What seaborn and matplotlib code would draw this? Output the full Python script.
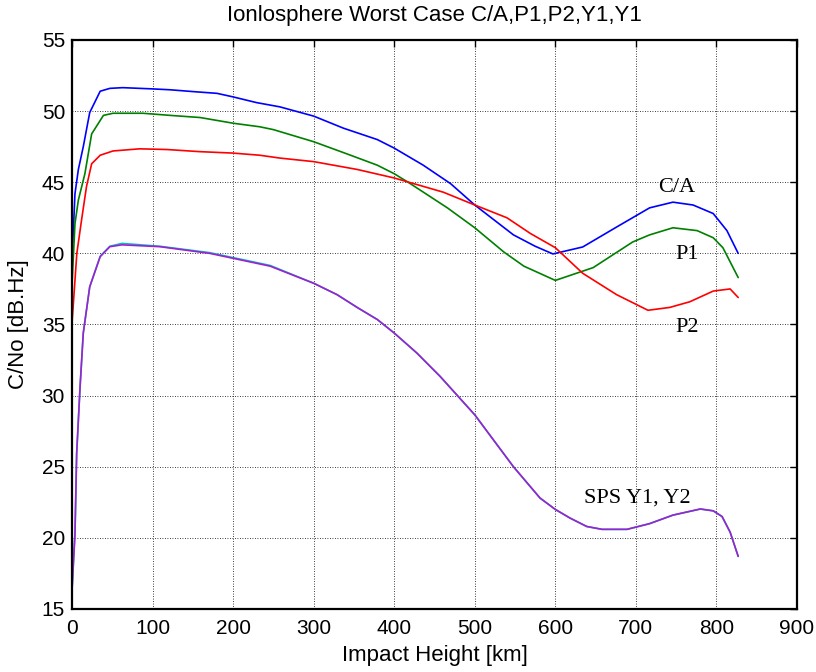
import matplotlib
matplotlib.use("Agg")
import matplotlib.pyplot as plt
import seaborn as sns
import pandas as pd

# ---- data ----
ca_x = [0, 3.7, 7.9, 14, 22, 35, 47, 63, 101, 122, 151, 180, 200, 229, 258, 300, 337, 379, 400,
        436, 470, 500, 548, 575, 597, 634, 676, 717, 746, 771, 796, 813, 827]
ca_y = [39.5, 44.2, 45.9, 47.5, 49.9, 51.4, 51.6, 51.65, 51.56, 51.5, 51.37, 51.25, 51.0, 50.6, 50.3,
        49.65, 48.8, 48.0, 47.4, 46.2, 44.9, 43.4, 41.3, 40.5, 39.96, 40.45, 41.85, 43.2, 43.6, 43.4,
        42.8, 41.6, 40.0]

p1_x = [0, 3.7, 7.9, 16, 24.4, 39, 51, 88, 122, 159, 200, 233, 250, 300, 341, 379, 400, 420, 466,
        500, 536, 561, 600, 647, 696, 717, 746, 776, 796, 808, 827]
p1_y = [37.8, 42.1, 43.75, 45.6, 48.4, 49.7, 49.85, 49.85, 49.7, 49.55, 49.15, 48.9, 48.7, 47.85,
        47.0, 46.2, 45.6, 44.9, 43.2, 41.8, 40.1, 39.1, 38.1, 39.0, 40.8, 41.3, 41.8, 41.6, 41.1,
        40.4, 38.3]

p2_x = [0, 6, 12, 18, 24.4, 35, 51, 84, 118, 159, 200, 233, 258, 300, 354, 400, 461, 500, 540,
        569, 600, 634, 676, 715, 742, 767, 796, 817, 827]
p2_y = [35.1, 40.0, 42.4, 44.7, 46.3, 46.9, 47.2, 47.35, 47.3, 47.15, 47.05, 46.9, 46.7, 46.45,
        45.9, 45.3, 44.3, 43.4, 42.5, 41.4, 40.4, 38.6, 37.1, 36.0, 36.2, 36.6, 37.35, 37.5, 36.9]

y_x = [0, 2, 3.7, 5.8, 10, 14, 22, 35, 47, 62, 109, 171, 196, 246, 300, 329, 354, 379, 400, 428,
       457, 500, 523, 548, 569, 581, 600, 618, 639, 658, 689, 717, 746, 780, 796, 807, 817, 827]
y1_y = [16.3, 18.5, 20.3, 25.95, 30.6, 34.4, 37.65, 39.8, 40.5, 40.7, 40.5, 40.05, 39.75, 39.15,
        37.9, 37.1, 36.2, 35.35, 34.4, 33.0, 31.35, 28.65, 26.9, 25.0, 23.6, 22.8, 22.0, 21.4,
        20.8, 20.6, 20.6, 21.0, 21.6, 22.03, 21.9, 21.5, 20.4, 18.7]
y2_y = [16.3, 18.5, 20.3, 25.95, 30.6, 34.4, 37.65, 39.77, 40.47, 40.6, 40.47, 40.0, 39.7, 39.1,
        37.9, 37.1, 36.2, 35.35, 34.4, 33.0, 31.35, 28.65, 26.9, 25.0, 23.6, 22.8, 22.0, 21.4,
        20.8, 20.6, 20.6, 21.0, 21.6, 22.03, 21.9, 21.5, 20.4, 18.7]

x_ticks = [0, 100, 200, 300, 400, 500, 600, 700, 800, 900]
y_ticks = [15, 20, 25, 30, 35, 40, 45, 50, 55]

labels = ["C/A", "P1", "P2", "SPS Y1, Y2"]
label_x = [751, 763, 763, 702]
label_y = [44.6, 39.9, 34.8, 22.8]

# ---- plotting ----
sns.set_style("white")
plt.rcParams['font.family'] = ['Liberation Sans', 'DejaVu Sans']

fig = plt.figure(figsize=(8.16, 6.72), dpi=100)
ax = fig.add_axes([72/816, 1-609/672, (797-72)/816, (609-40)/672])

series = [
    (ca_x, ca_y, "#0000ff"),
    (p1_x, p1_y, "#008000"),
    (p2_x, p2_y, "#ff0000"),
    (y_x, y1_y, "#00bfbf"),
    (y_x, y2_y, "#a020d0"),
]
for xs, ys, col in series:
    df = pd.DataFrame({"x": xs, "y": ys})
    sns.lineplot(data=df, x="x", y="y", color=col, linewidth=1.2, ax=ax,
                 estimator=None, sort=False)

ax.set_xlim(0, 900)
ax.set_ylim(15, 55)
ax.set_xticks(x_ticks)
ax.set_yticks(y_ticks)
ax.grid(True, linestyle=(0, (1, 2)), color='black', linewidth=0.6)
ax.tick_params(direction='in', top=True, right=True, length=5, width=1, labelsize=15,
               color='black', labelcolor='black')
ax.tick_params(axis='x', pad=7)
ax.tick_params(axis='y', pad=5)
for s in ax.spines.values():
    s.set_color('black')
    s.set_linewidth(1.6)

ax.set_xlabel("Impact Height [km]", fontsize=16, color='black', labelpad=5)
ax.set_ylabel("C/No [dB.Hz]", fontsize=16, color='black', labelpad=9)
ax.set_title("Ionlosphere Worst Case C/A,P1,P2,Y1,Y1", fontsize=16, color='black', pad=14)

for t, tx, ty in zip(labels, label_x, label_y):
    ax.text(tx, ty, t, ha='center', va='center', fontsize=16,
            family=['Liberation Serif', 'DejaVu Serif'], color='black')

fig.savefig("out.png", dpi=100)
